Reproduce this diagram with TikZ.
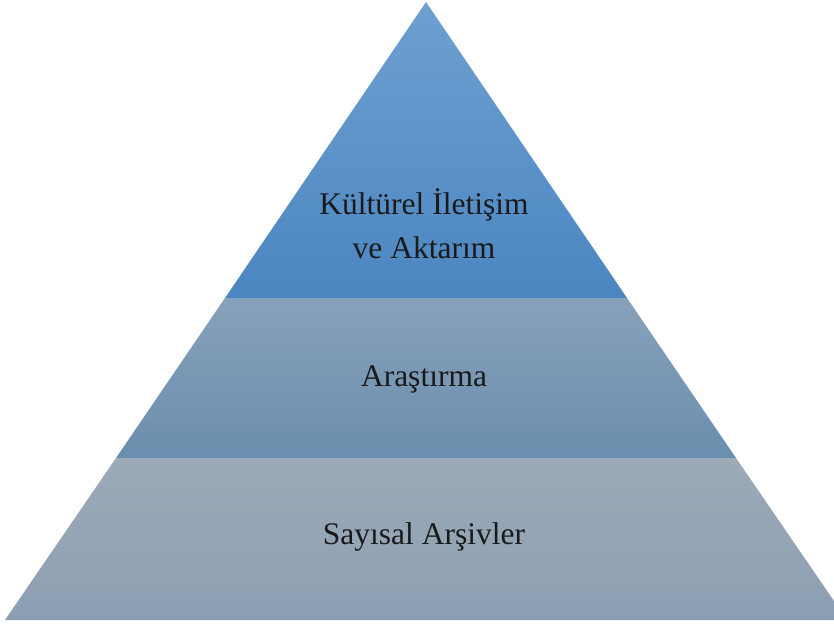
\documentclass[tikz,border=0pt]{standalone}
\usepackage{fontspec}
\setmainfont{Liberation Serif}
\definecolor{topA}{HTML}{6EA0D1}
\definecolor{topB}{HTML}{4B86C1}
\definecolor{midA}{HTML}{88A1BA}
\definecolor{midB}{HTML}{6A8EAE}
\definecolor{botA}{HTML}{9CAAB8}
\definecolor{botB}{HTML}{8C9FB2}
\definecolor{txt}{HTML}{1A1A1A}
\tikzset{lbl/.style={font=\fontsize{31.5}{44}\selectfont, text=txt, align=center, inner sep=0pt}}
\begin{document}
\begin{tikzpicture}[x=1pt,y=-1pt]
\useasboundingbox (0,0) rectangle (834,623);
\clip (0,0) rectangle (834,623);
\shade[top color=topA, bottom color=topB] (426,2) -- (627,298) -- (225,298) -- cycle;
\shade[top color=midA, bottom color=midB] (225,298) -- (627,298) -- (736,458) -- (116,458) -- cycle;
\shade[top color=botA, bottom color=botB] (116,458) -- (736,458) -- (847,620) -- (5,620) -- cycle;
\node[lbl] (t1) at (424,224) {Kültürel İletişim\\ve Aktarım};
\node[lbl] (t2) at (424,379) {Araştırma};
\node[lbl] (t3) at (424,537) {Sayısal Arşivler};
\end{tikzpicture}
\end{document}
